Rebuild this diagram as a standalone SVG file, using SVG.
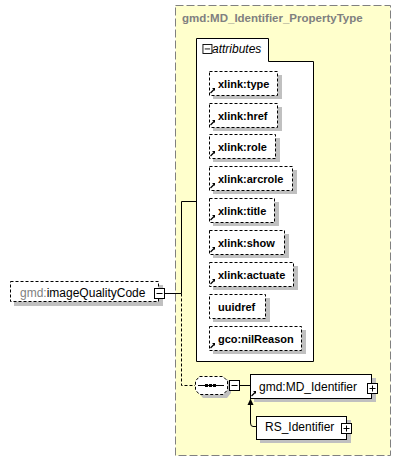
<svg xmlns="http://www.w3.org/2000/svg" width="407" height="461" viewBox="0 0 407 461">
<style>
.t{font-family:"Liberation Sans",Arial,sans-serif;}
.attr{fill:#fff;stroke:#000;stroke-width:1;stroke-dasharray:3,2;}
.sh{fill:#c0c0c0;}
.at{font-family:"Liberation Sans",Arial,sans-serif;font-size:11px;font-weight:bold;fill:#000;}
.box{fill:#fff;stroke:#000;stroke-width:1;}
.ln{fill:none;stroke:#000;stroke-width:1;}
</style>
<defs>
<g id="minus"><rect x="0.5" y="0.5" width="10" height="10" fill="#fff" stroke="#000"/><line x1="2.5" y1="5.5" x2="8.5" y2="5.5" stroke="#000"/></g>
<g id="plus"><rect x="0.5" y="0.5" width="10" height="10" fill="#fff" stroke="#000"/><line x1="2.5" y1="5.5" x2="8.5" y2="5.5" stroke="#000"/><line x1="5.5" y1="2.5" x2="5.5" y2="8.5" stroke="#000"/></g>
<g id="ref"><path d="M0.5,5 L4,1.5" stroke="#000" stroke-width="1.2" fill="none"/><path d="M2,0 L5,0 L5,3 Z" fill="#000"/></g>
</defs>
<g id="propertyType">
<rect x="175.5" y="5.5" width="215" height="450" fill="#ffffcc" stroke="#808080" stroke-dasharray="8,3"/>
<text class="t" x="182" y="22" font-size="11.5" font-weight="bold" fill="#808080">gmd:MD_Identifier_PropertyType</text>
</g>
<g id="attributes">
<path d="M196.5,38.5 H268.5 V61.5 H313.5 V361.5 H196.5 Z" fill="#fff" stroke="#000"/>
<g transform="translate(202.5,44) scale(0.9)"><use href="#minus"/></g>
<text class="t" x="212" y="53" font-size="12" font-style="italic" fill="#000">attributes</text>
</g>
<g id="attr-type"><rect class="sh" x="213" y="75" width="69" height="24"/><rect class="attr" x="209.5" y="71.5" width="68" height="24"/><use href="#ref" x="210" y="88"/><text class="at" x="218" y="87.5">xlink:type</text></g>
<g id="attr-href"><rect class="sh" x="213" y="107" width="69" height="24"/><rect class="attr" x="209.5" y="103.5" width="68" height="24"/><use href="#ref" x="210" y="120"/><text class="at" x="218" y="119.5">xlink:href</text></g>
<g id="attr-role"><rect class="sh" x="213" y="138" width="67" height="24"/><rect class="attr" x="209.5" y="134.5" width="66" height="24"/><use href="#ref" x="210" y="151"/><text class="at" x="218" y="150.5">xlink:role</text></g>
<g id="attr-arcrole"><rect class="sh" x="213" y="170" width="84" height="24"/><rect class="attr" x="209.5" y="166.5" width="83" height="24"/><use href="#ref" x="210" y="183"/><text class="at" x="218" y="182.5">xlink:arcrole</text></g>
<g id="attr-title"><rect class="sh" x="213" y="202" width="66" height="24"/><rect class="attr" x="209.5" y="198.5" width="65" height="24"/><use href="#ref" x="210" y="215"/><text class="at" x="218" y="214.5">xlink:title</text></g>
<g id="attr-show"><rect class="sh" x="213" y="234" width="76" height="24"/><rect class="attr" x="209.5" y="230.5" width="75" height="24"/><use href="#ref" x="210" y="247"/><text class="at" x="218" y="246.5">xlink:show</text></g>
<g id="attr-actuate"><rect class="sh" x="213" y="266" width="85" height="24"/><rect class="attr" x="209.5" y="262.5" width="84" height="24"/><use href="#ref" x="210" y="279"/><text class="at" x="218" y="278.5">xlink:actuate</text></g>
<g id="attr-uuidref"><rect class="sh" x="213" y="298" width="57" height="24"/><rect class="attr" x="209.5" y="294.5" width="56" height="24"/><text class="at" x="218" y="310.5">uuidref</text></g>
<g id="attr-nilReason"><rect class="sh" x="213" y="330" width="93" height="24"/><rect class="attr" x="209.5" y="326.5" width="92" height="24"/><use href="#ref" x="210" y="343"/><text class="at" x="218" y="342.5">gco:nilReason</text></g>
<g id="connectors">
<path class="ln" d="M165,293.5 H181.5 V201.5 H196.5"/>
<path class="ln" d="M181.5,293.5 V385.5 H195" stroke-dasharray="3,2"/>
<line class="ln" x1="240" y1="385.5" x2="250" y2="385.5"/>
<path class="ln" d="M256,426.5 H253 Q250.5,426.5 250.5,423 V404"/>
<path d="M250.5,398.5 L253.5,405 L247.5,405 Z" fill="#000"/>
</g>
<g id="imageQualityCode">
<rect class="sh" x="14" y="285" width="149" height="21"/>
<rect x="10.5" y="281.5" width="148" height="20" fill="#fff" stroke="#000" stroke-dasharray="3,2"/>
<text class="t" x="20" y="296.5" font-size="12"><tspan fill="#808080">gmd:</tspan><tspan fill="#000">imageQualityCode</tspan></text>
<use href="#minus" x="154" y="288"/>
</g>
<g id="sequence">
<path d="M203,379 H227 L231,383 V393 L227,398 H203 L199,393 V383 Z" class="sh"/>
<path d="M199.5,376.5 H223 L227.5,381 V390 L223,394.5 H199.5 L195.5,390 V381 Z" fill="#fff" stroke="#000" stroke-dasharray="3,2"/>
<line x1="198" y1="385.5" x2="224" y2="385.5" stroke="#000"/>
<rect x="205" y="384" width="3" height="3" fill="#000"/>
<rect x="209" y="384" width="3" height="3" fill="#000"/>
<rect x="213" y="384" width="3" height="3" fill="#000"/>
<use href="#minus" x="229" y="380"/>
</g>
<g id="MD_Identifier">
<rect class="sh" x="254" y="378" width="122" height="24"/>
<rect class="box" x="250.5" y="374.5" width="121" height="24"/>
<use href="#ref" x="251" y="391"/>
<text class="t" x="259" y="390.5" font-size="12" fill="#000">gmd:MD_Identifier</text>
<use href="#plus" x="367" y="383"/>
</g>
<g id="RS_Identifier">
<rect class="sh" x="260" y="420" width="91" height="23"/>
<rect class="box" x="256.5" y="416.5" width="90" height="23"/>
<text class="t" x="265" y="431" font-size="12" fill="#000">RS_Identifier</text>
<use href="#plus" x="341" y="423"/>
</g>
</svg>
